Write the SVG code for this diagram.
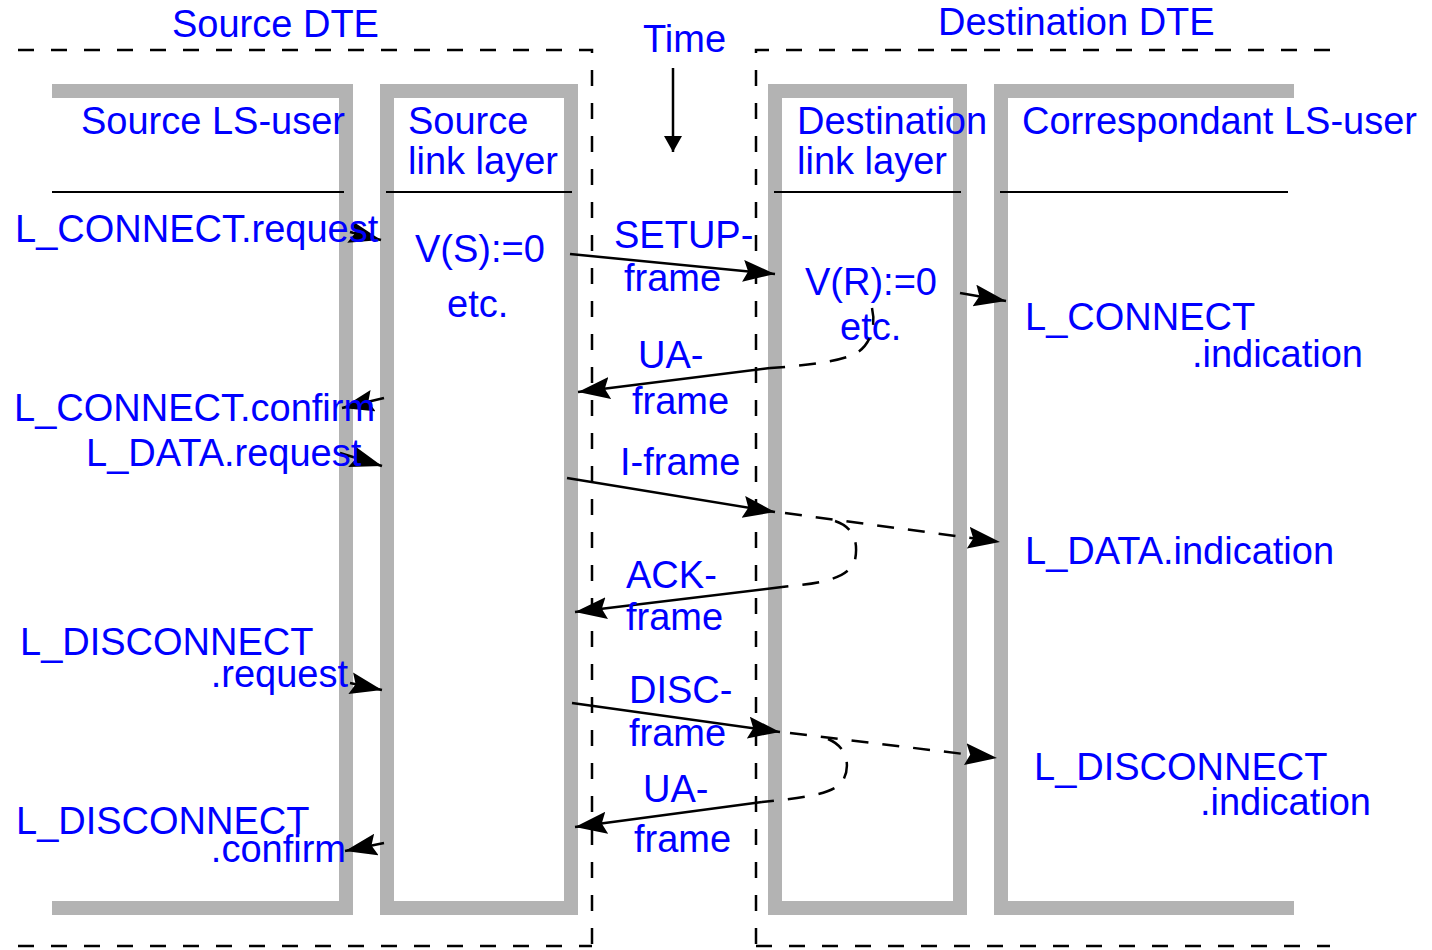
<svg xmlns="http://www.w3.org/2000/svg" width="1432" height="950" viewBox="0 0 1432 950">
  <style>
    .lbl { font-family: "Liberation Sans", Arial, sans-serif; font-size: 38px; fill: #0000ff; }
    .end { text-anchor: end; }
    .frame { fill: none; stroke: #b3b3b3; stroke-width: 14; }
    .rule { stroke: #000; stroke-width: 2.2; fill: none; }
    .bound { fill: none; stroke: #000; stroke-width: 2.5; stroke-dasharray: 16 17; }
    .msg { fill: none; stroke: #000; stroke-width: 2.5; }
    .dash { fill: none; stroke: #000; stroke-width: 2.5; stroke-dasharray: 17 14; }
  </style>
  <defs>
    <marker id="ah" markerUnits="userSpaceOnUse" markerWidth="34" markerHeight="24" refX="32" refY="11" orient="auto">
      <path d="M0,0 L32,11 L0,22 L5,11 z" fill="#000"/>
    </marker>
    <marker id="tip" markerUnits="userSpaceOnUse" markerWidth="20" markerHeight="20" refX="16" refY="9" orient="auto">
      <path d="M0,0 L16,9 L0,18 z" fill="#000"/>
    </marker>
  </defs>

  <!-- system boundaries -->
  <g id="source-dte">
    <path class="bound" d="M18,50 H592 V950"/>
    <path class="bound" d="M18,946 H592"/>
    <text class="lbl" x="172" y="37">Source DTE</text>
  </g>
  <g id="destination-dte">
    <path class="bound" d="M1330,50 H756 V950"/>
    <path class="bound" d="M756,946 H1330"/>
    <text class="lbl" x="938" y="35">Destination DTE</text>
  </g>

  <!-- time axis -->
  <g id="time">
    <text class="lbl" x="643" y="52">Time</text>
    <path class="msg" d="M673,68 V152" marker-end="url(#tip)"/>
  </g>

  <!-- layer columns -->
  <g id="source-ls-user">
    <path class="frame" d="M52,91 H346 V908 H52"/>
    <line class="rule" x1="52" y1="192" x2="344" y2="192"/>
    <text class="lbl" x="81" y="134">Source LS-user</text>
  </g>
  <g id="source-link-layer">
    <rect class="frame" x="387" y="91" width="184" height="817"/>
    <line class="rule" x1="386" y1="192" x2="572" y2="192"/>
    <text class="lbl" x="408" y="134">Source</text>
    <text class="lbl" x="408" y="174">link layer</text>
    <text class="lbl" x="415" y="262">V(S):=0</text>
    <text class="lbl" x="447" y="317">etc.</text>
  </g>
  <g id="destination-link-layer">
    <rect class="frame" x="775" y="91" width="185" height="817"/>
    <line class="rule" x1="774" y1="192" x2="961" y2="192"/>
    <text class="lbl" x="797" y="134">Destination</text>
    <text class="lbl" x="797" y="174">link layer</text>
    <text class="lbl" x="805" y="295">V(R):=0</text>
    <text class="lbl" x="840" y="340">etc.</text>
  </g>
  <g id="correspondant-ls-user">
    <path class="frame" d="M1294,91 H1001 V908 H1294"/>
    <line class="rule" x1="1000" y1="192" x2="1288" y2="192"/>
    <text class="lbl" x="1022" y="134">Correspondant LS-user</text>
  </g>

  <!-- primitives and frames -->
  <g id="connectors">
    <!-- connect phase -->
    <path class="msg" d="M350,232 L381,240" marker-end="url(#ah)"/>
    <path class="msg" d="M570,254 L775,274" marker-end="url(#ah)"/>
    <path class="msg" d="M960,293 L1006,301" marker-end="url(#ah)"/>
    <path class="dash" d="M872,308 C877,330 868,350 850,356 C830,363 800,366 770,368"/>
    <path class="msg" d="M770,368 L578,392" marker-end="url(#ah)"/>
    <path class="msg" d="M384,398 L342,408" marker-end="url(#ah)"/>

    <!-- data transfer -->
    <path class="msg" d="M340,453 L382,466" marker-end="url(#ah)"/>
    <path class="msg" d="M567,478 L775,512" marker-end="url(#ah)"/>
    <path class="dash" d="M785,513 L1000,542" marker-end="url(#ah)"/>
    <path class="dash" d="M835,521 C856,528 858,545 855,560 C850,576 828,582 800,585 L782,587"/>
    <path class="msg" d="M782,587 L575,612" marker-end="url(#ah)"/>

    <!-- disconnect phase -->
    <path class="msg" d="M350,683 L382,690" marker-end="url(#ah)"/>
    <path class="msg" d="M572,703 L780,732" marker-end="url(#ah)"/>
    <path class="dash" d="M790,733 L997,758" marker-end="url(#ah)"/>
    <path class="dash" d="M828,739 C850,748 850,770 842,782 C832,795 800,798 762,802"/>
    <path class="msg" d="M762,802 L575,827" marker-end="url(#ah)"/>
    <path class="msg" d="M384,843 L345,851" marker-end="url(#ah)"/>
  </g>

  <g id="labels">
    <text class="lbl" x="15" y="242">L_CONNECT.request</text>
    <text class="lbl" x="614" y="248">SETUP-</text>
    <text class="lbl" x="624" y="291">frame</text>
    <text class="lbl" x="1025" y="330">L_CONNECT</text>
    <text class="lbl end" x="1363" y="367">.indication</text>
    <text class="lbl" x="638" y="368">UA-</text>
    <text class="lbl" x="632" y="414">frame</text>
    <text class="lbl" x="14" y="421">L_CONNECT.confirm</text>
    <text class="lbl" x="86" y="466">L_DATA.request</text>
    <text class="lbl" x="620" y="475">I-frame</text>
    <text class="lbl" x="1025" y="564">L_DATA.indication</text>
    <text class="lbl" x="626" y="588">ACK-</text>
    <text class="lbl" x="626" y="630">frame</text>
    <text class="lbl" x="20" y="655">L_DISCONNECT</text>
    <text class="lbl end" x="348" y="687">.request</text>
    <text class="lbl" x="629" y="703">DISC-</text>
    <text class="lbl" x="629" y="746">frame</text>
    <text class="lbl" x="1034" y="780">L_DISCONNECT</text>
    <text class="lbl end" x="1371" y="815">.indication</text>
    <text class="lbl" x="643" y="802">UA-</text>
    <text class="lbl" x="634" y="852">frame</text>
    <text class="lbl" x="16" y="834">L_DISCONNECT</text>
    <text class="lbl end" x="346" y="862">.confirm</text>
  </g>
</svg>
